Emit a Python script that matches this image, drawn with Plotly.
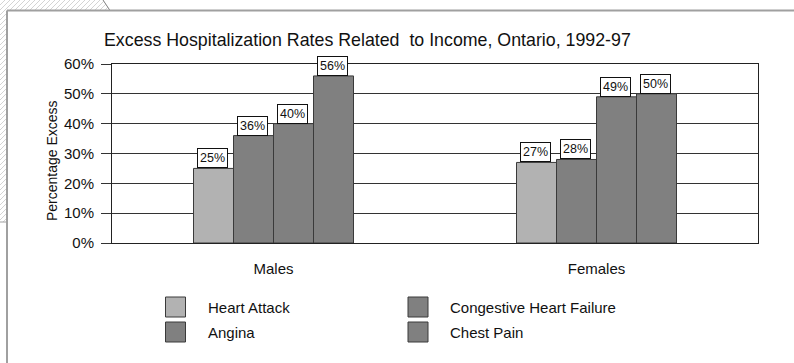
import plotly.graph_objects as go

# Data
groups = ["Males", "Females"]
series_names = ["Heart Attack", "Angina", "Congestive Heart Failure", "Chest Pain"]
heart_attack = [25, 27]
angina = [36, 28]
congestive_heart_failure = [40, 49]
chest_pain = [56, 50]
y_ticks = [0, 10, 20, 30, 40, 50, 60]
y_tick_labels = ["0%", "10%", "20%", "30%", "40%", "50%", "60%"]

series_values = [heart_attack, angina, congestive_heart_failure, chest_pain]
fills = ["#b2b2b2", "#808080", "#808080", "#808080"]
edge = "#3a3a3a"
FONT = "Liberation Sans, Arial, sans-serif"

W, H = 794, 363
L, R, T, B = 112, 36, 64, 120
PW, PH = W - L - R, H - T - B


def px(x):
    return (x - L) / PW


def py(y):
    return (H - B - y) / PH


fig = go.Figure()
for name, vals, col in zip(series_names, series_values, fills):
    fig.add_trace(go.Bar(
        x=groups, y=vals, name=name,
        marker=dict(color=col, line=dict(color=edge, width=1)),
        showlegend=False, hoverinfo="skip",
    ))

annotations = []
shapes = []

# value boxes above each bar
bar_px = 40
for i, vals in enumerate(series_values):
    for g, v in zip(groups, vals):
        annotations.append(dict(
            x=g, y=v, xref="x", yref="y", text=f"{v}%", showarrow=False,
            xshift=(i - 1.5) * bar_px - 1, yanchor="bottom", yshift=0,
            font=dict(family=FONT, size=12.5, color="#111"),
            bgcolor="white", bordercolor="#111", borderwidth=1, borderpad=2,
        ))

# title and axis title
annotations.append(dict(
    x=px(102), y=py(40), xref="paper", yref="paper", xanchor="left", yanchor="middle",
    text="Excess Hospitalization Rates Related\u00a0 to Income, Ontario, 1992-97",
    showarrow=False, font=dict(family=FONT, size=17.8, color="#111"),
))
annotations.append(dict(
    x=px(52), y=py(161), xref="paper", yref="paper", xanchor="center", yanchor="middle",
    text="Percentage Excess", textangle=-90, showarrow=False,
    font=dict(family=FONT, size=14, color="#111"),
))

# legend drawn as swatches and labels (two columns)
legend_pos = [(165.5, 297), (165.5, 322), (408, 297), (408, 322)]
for (lx, ly), k in zip(legend_pos, range(4)):
    shapes.append(dict(
        type="rect", xref="paper", yref="paper",
        x0=px(lx), x1=px(lx + 20), y0=py(ly + 20), y1=py(ly),
        fillcolor=fills[k], line=dict(color=edge, width=1),
    ))
    annotations.append(dict(
        x=px(lx + 40), y=py(ly + 10), xref="paper", yref="paper",
        xanchor="left", yanchor="middle", text=series_names[k], showarrow=False,
        font=dict(family=FONT, size=15, color="#111"),
    ))

# page frame with hatched margin
hatch = []
for c in range(0, 240, 5):
    # left strip: x in [0, 6], y in [0, 222], line x + y = c
    x0, x1 = max(0, c - 222), min(6, c)
    if x1 > x0:
        hatch.append(f"M{px(x0)},{py(c - x0)}L{px(x1)},{py(c - x1)}")
    # top strip up to the slanted edge
    if c <= 120:
        xa = max(0, c - 10)
        ya = c - xa
        xb, yb = c, 0
        if xb > 103:
            yb = (c - 103) / 1.7
            xb = c - yb
        if yb < ya and xb > xa:
            hatch.append(f"M{px(xa)},{py(ya)}L{px(xb)},{py(yb)}")
shapes.append(dict(type="path", xref="paper", yref="paper", path="".join(hatch),
                   line=dict(color="#d4d4d4", width=1), layer="below"))
shapes.append(dict(type="line", xref="paper", yref="paper",
                   x0=px(103), y0=py(0), x1=px(110), y1=py(10.5),
                   line=dict(color="#808080", width=1)))
shapes.append(dict(type="line", xref="paper", yref="paper",
                   x0=px(0), y0=py(222), x1=px(7), y1=py(222),
                   line=dict(color="#a0a0a0", width=1)))
shapes.append(dict(type="line", xref="paper", yref="paper",
                   x0=px(7), y0=py(10.5), x1=px(W), y1=py(10.5),
                   line=dict(color="#a0a0a0", width=2)))
shapes.append(dict(type="line", xref="paper", yref="paper",
                   x0=px(7), y0=py(10.5), x1=px(7), y1=py(H),
                   line=dict(color="#a0a0a0", width=2)))

fig.update_layout(
    width=W, height=H,
    margin=dict(l=L, r=R, t=T, b=B, pad=0),
    paper_bgcolor="white", plot_bgcolor="white",
    barmode="group", bargap=1 - 4 * bar_px / (PW / 2), bargroupgap=0,
    annotations=annotations, shapes=shapes,
    font=dict(family=FONT, color="#111"),
    xaxis=dict(
        showline=True, linecolor="#222", linewidth=1, mirror=True,
        showgrid=False, ticks="", ticklabelstandoff=12,
        tickfont=dict(family=FONT, size=15, color="#111"),
    ),
    yaxis=dict(
        range=[0, 60], tickvals=y_ticks, ticktext=y_tick_labels,
        showline=True, linecolor="#222", linewidth=1, mirror=True,
        showgrid=True, gridcolor="#333", gridwidth=1,
        ticks="outside", ticklen=10, tickcolor="#333", ticklabelstandoff=4,
        tickfont=dict(family=FONT, size=15, color="#111"),
        zeroline=False,
    ),
)

fig.write_html("out.html")
